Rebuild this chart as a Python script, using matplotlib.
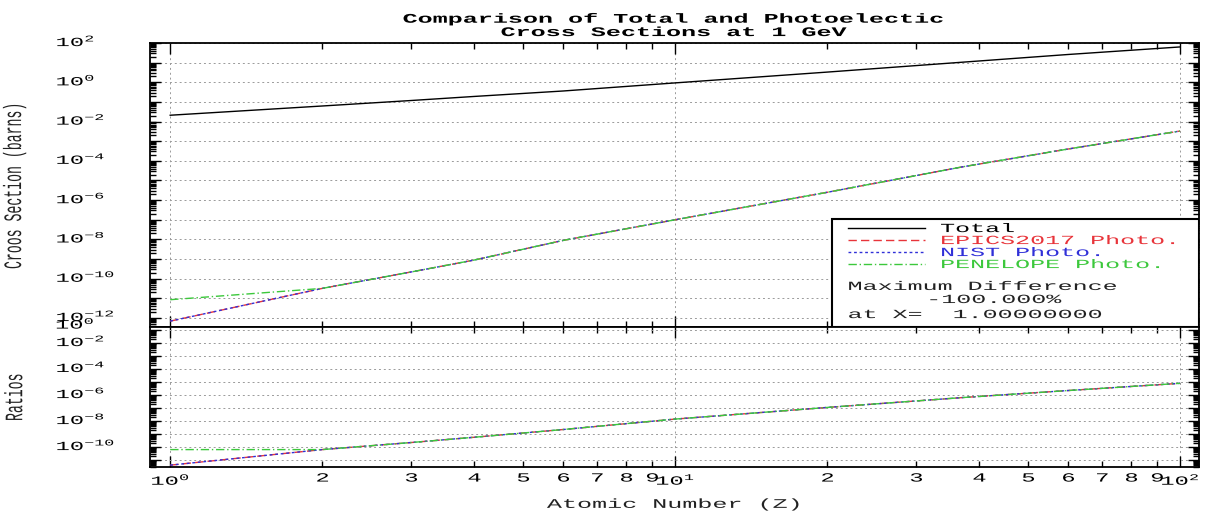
import numpy as np
import matplotlib
matplotlib.use('Agg')
import matplotlib.pyplot as plt
import matplotlib.ticker as mticker
from matplotlib.patheffects import AbstractPathEffect
from matplotlib.transforms import Affine2D, ScaledTranslation
from matplotlib.patches import Rectangle

FONT = 'Liberation Mono'
plt.rcParams['font.family'] = FONT
plt.rcParams['mathtext.fontset'] = 'custom'
plt.rcParams['mathtext.rm'] = FONT
plt.rcParams['mathtext.it'] = FONT
plt.rcParams['mathtext.default'] = 'regular'

RED = '#e8343a'
BLUE = '#3030d8'
GREEN = '#3cc83c'
GRID = '#9a9a9a'
SX = 1.9  # the old vector font is very wide

# --- data ---
z = [1, 2, 3, 4, 6, 10, 20, 37, 60, 100]
total = [0.021, 0.062, 0.118, 0.19, 0.36, 0.93, 3.3, 10.5, 26, 63]
epics_photo = [6.9e-13, 3.2e-11, 2.2e-10, 8.9e-10, 8.9e-9, 1.0e-7, 2.5e-6, 4.9e-5, 4.0e-4, 3.3e-3]
nist_photo = [6.9e-13, 3.2e-11, 2.2e-10, 8.9e-10, 8.9e-9, 1.0e-7, 2.5e-6, 4.9e-5, 4.0e-4, 3.3e-3]
penelope_photo = [8.5e-12, 3.2e-11, 2.2e-10, 8.9e-10, 8.9e-9, 1.0e-7, 2.5e-6, 4.9e-5, 4.0e-4, 3.3e-3]
epics_ratio = [4.0e-12, 6.3e-11, 2.2e-10, 5.6e-10, 2.2e-9, 1.4e-8, 1.1e-7, 6.3e-7, 2.2e-6, 7.9e-6]
nist_ratio = [4.0e-12, 6.3e-11, 2.2e-10, 5.6e-10, 2.2e-9, 1.4e-8, 1.1e-7, 6.3e-7, 2.2e-6, 7.9e-6]
penelope_ratio = [6.3e-11, 6.3e-11, 2.2e-10, 5.6e-10, 2.2e-9, 1.4e-8, 1.1e-7, 6.3e-7, 2.2e-6, 7.9e-6]

legend_labels = ['Total', 'EPICS2017 Photo.', 'NIST Photo.', 'PENELOPE Photo.']
note_lines = ['Maximum Difference', '-100.000%', 'at X=  1.00000000']


class Stretch(AbstractPathEffect):
    """Widen text glyphs horizontally around one anchor."""
    def __init__(self, sx=SX, anchor='center'):
        super().__init__()
        self.sx = sx
        self.anchor = anchor

    def draw_path(self, renderer, gc, tpath, affine, rgbFace=None):
        if len(tpath.vertices) == 0:
            return
        xs = affine.transform(tpath.vertices)[:, 0]
        cx = {'left': xs.min(), 'right': xs.max(), 'center': (xs.min() + xs.max()) / 2}[self.anchor]
        tr = Affine2D(affine.get_matrix()).translate(-cx, 0).scale(self.sx, 1).translate(cx, 0)
        renderer.draw_path(gc, tpath, tr, rgbFace)


W, H = 1222, 515
fig = plt.figure(figsize=(W / 100, H / 100), dpi=100)
ax1 = fig.add_axes([150 / W, 1 - 327 / H, 1049 / W, 284 / H])
ax2 = fig.add_axes([150 / W, 1 - 467 / H, 1049 / W, 140 / H], sharex=ax1)

styles = dict(epics=dict(color=RED, ls=(0, (6, 3)), lw=1.0),
              nist=dict(color=BLUE, ls=(0, (2, 2)), lw=1.0),
              penelope=dict(color=GREEN, ls=(0, (6, 2, 1, 2)), lw=1.0))

l_tot, = ax1.plot(z, total, color='black', lw=1.0)
l_ep, = ax1.plot(z, epics_photo, **styles['epics'])
l_ni, = ax1.plot(z, nist_photo, **styles['nist'])
l_pe, = ax1.plot(z, penelope_photo, **styles['penelope'])

ax2.plot(z, epics_ratio, **styles['epics'])
ax2.plot(z, nist_ratio, **styles['nist'])
ax2.plot(z, penelope_ratio, **styles['penelope'])

ax1.set_xscale('log')
ax1.set_xlim(0.912, 109)
ax1.set_yscale('log')
ax1.set_ylim(10 ** -12.46, 1e2)
ax2.set_yscale('log')
ax2.set_ylim(10 ** -11.54, 10 ** -0.77)


def even_decades(v, pos):
    e = int(round(np.log10(v)))
    return f'$10^{{{e}}}$' if e % 2 == 0 else ''


def x_major(v, pos):
    return f'$10^{{{int(round(np.log10(v)))}}}$'


def x_minor(v, pos):
    d = v / 10 ** np.floor(np.log10(v) + 1e-9)
    return f'{int(round(d))}'


for ax in (ax1, ax2):
    ax.yaxis.set_major_locator(mticker.LogLocator(base=10, numticks=40))
    ax.yaxis.set_minor_locator(mticker.LogLocator(base=10, subs=np.arange(2, 10), numticks=40))
    ax.yaxis.set_major_formatter(mticker.FuncFormatter(even_decades))
    ax.yaxis.set_minor_formatter(mticker.NullFormatter())
    ax.grid(True, which='major', color=GRID, ls=(0, (2, 3)), lw=0.7)
    ax.tick_params(which='both', direction='in', top=True, right=True, labelsize=9, width=1.0)
    ax.tick_params(which='major', length=8)
    ax.tick_params(which='minor', length=4)
    ax.tick_params(axis='y', which='major', pad=68)
    ax.tick_params(axis='x', which='both', pad=4)
    for s in ax.spines.values():
        s.set_linewidth(1.3)

ax2.xaxis.set_major_locator(mticker.LogLocator(base=10))
ax2.xaxis.set_minor_locator(mticker.LogLocator(base=10, subs=np.arange(2, 10)))
ax2.xaxis.set_major_formatter(mticker.FuncFormatter(x_major))
ax2.xaxis.set_minor_formatter(mticker.FuncFormatter(x_minor))
ax1.tick_params(axis='x', which='both', labelbottom=False)

ax1.set_title('Comparison of Total and Photoelectic\nCross Sections at 1 GeV',
              fontsize=9.5, fontweight='bold', linespacing=1.15, pad=5,
              path_effects=[Stretch(SX, 'center')])
ax2.set_xlabel('Atomic Number (Z)', fontsize=9.5, labelpad=8, color='#222222',
               path_effects=[Stretch(SX, 'center')])
ax1.set_ylabel('Croos Section (barns)', fontsize=9.5, color='#222222',
               path_effects=[Stretch(SX, 'center')])
ax2.set_ylabel('Ratios', fontsize=9.5, color='#222222',
               path_effects=[Stretch(SX, 'center')])
ax1.yaxis.set_label_coords(-0.123, 0.5)
ax2.yaxis.set_label_coords(-0.123, 0.5)

# legend box with the difference note
ax1.add_patch(Rectangle((0.650, 0.0), 0.35, 0.38, transform=ax1.transAxes,
                        facecolor='white', edgecolor='black', lw=1.5, zorder=4.5))
leg = ax1.legend([l_tot, l_ep, l_ni, l_pe], legend_labels, loc='upper left',
                 bbox_to_anchor=(0.665, 0.366), frameon=False, fontsize=9,
                 borderpad=0, borderaxespad=0, labelspacing=0,
                 handlelength=6.2, handletextpad=1.2, labelcolor='linecolor')
leg.set_zorder(6)
for t in leg.get_texts():
    t.set_path_effects([Stretch(2.0, 'left')])
for txt, xf, yf in zip(note_lines, [0.665, 0.74, 0.665], [0.141, 0.095, 0.042]):
    ax1.text(xf, yf, txt, transform=ax1.transAxes, fontsize=9, va='center', ha='left',
             zorder=7, color='#222222', path_effects=[Stretch(2.0, 'left')])

# the 10^0 label of the ratio panel sits just above its frame
fig.text(55 / W, 1 - 324 / H, '$10^{0}$', fontsize=9, ha='left', va='center',
         path_effects=[Stretch(SX, 'left')])

fig.canvas.draw()
lift = ScaledTranslation(0, 3 / 100, fig.dpi_scale_trans)
for ax in (ax1, ax2):
    for t in ax.yaxis.get_major_ticks():
        t.label1.set_horizontalalignment('left')
        t.label1.set_transform(t.label1.get_transform() + lift)
        t.label1.set_path_effects([Stretch(SX, 'left')])
for t in ax2.xaxis.get_major_ticks() + ax2.xaxis.get_minor_ticks():
    t.label1.set_path_effects([Stretch(SX, 'center')])

fig.savefig('out.png', dpi=100)
plt.close(fig)
